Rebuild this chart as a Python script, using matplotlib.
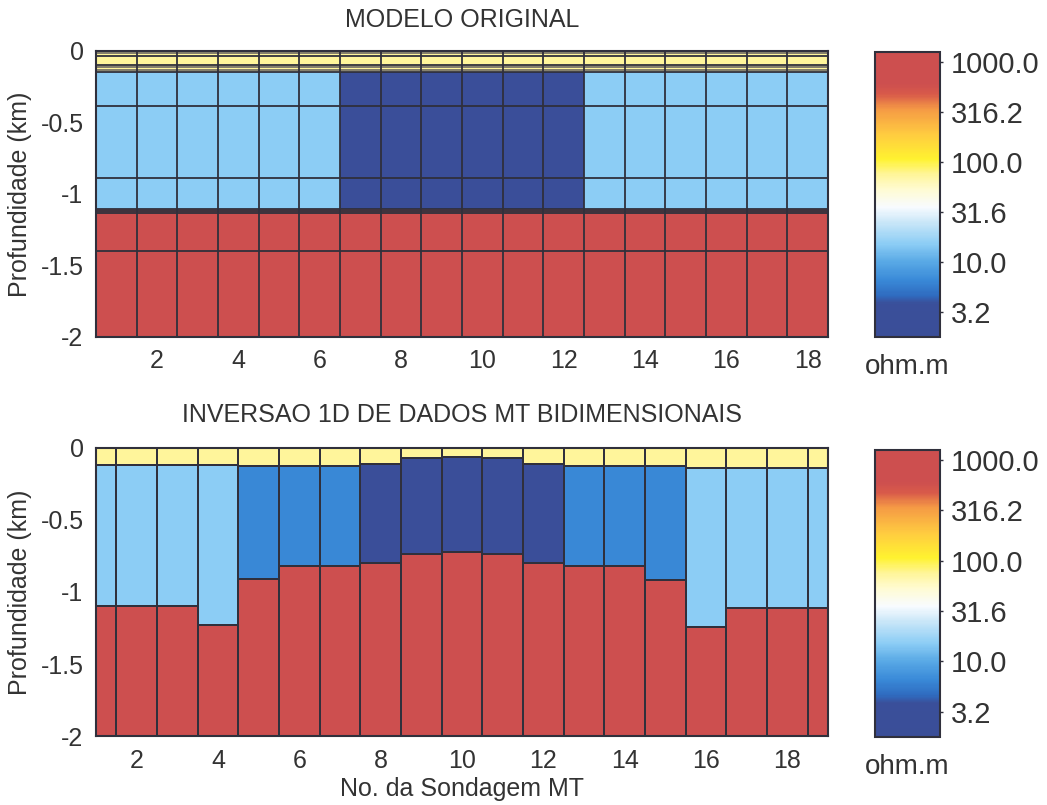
import matplotlib
matplotlib.use('Agg')
import matplotlib.pyplot as plt
import numpy as np
from matplotlib.colors import LinearSegmentedColormap, Normalize

plt.rcParams['font.family'] = ['Liberation Sans', 'DejaVu Sans']
plt.rcParams['font.size'] = 18

# resistividade (ohm.m) de cada camada
RHO_TOPO = 75.0
RHO_RASO = 15.0
RHO_MEDIO = 6.5
RHO_CONDUTOR = 2.2
RHO_EMBASAMENTO = 1000.0

# modelo original: 18 estacoes, camadas com profundidade (km)
estacoesModelo = np.arange(1, 19)
camadasModelo = [0.0, 0.017, 0.035, 0.097, 0.115, 0.13, 0.148,
                 0.385, 0.888, 1.107, 1.122, 1.135, 1.40, 2.0]
camadasFinas = [0.017, 0.115, 0.13]
condutorModelo = [7, 8, 9, 10, 11, 12]

# inversao 1D: 19 estacoes, base da camada superficial e topo do embasamento (km)
estacoesInversao = np.arange(1, 20)
baseTopo = [0.115, 0.115, 0.115, 0.115, 0.125, 0.125, 0.125, 0.11, 0.067, 0.065,
            0.067, 0.11, 0.125, 0.125, 0.125, 0.14, 0.14, 0.14, 0.14]
topoEmbasamento = [1.10, 1.10, 1.10, 1.23, 0.91, 0.82, 0.82, 0.80, 0.737, 0.72,
                   0.737, 0.80, 0.82, 0.82, 0.92, 1.24, 1.11, 1.11, 1.11]
rhoIntermediaria = [RHO_RASO] * 4 + [RHO_MEDIO] * 3 + [RHO_CONDUTOR] * 5 + \
                   [RHO_MEDIO] * 3 + [RHO_RASO] * 4

ticksCores = [0.5, 1.0, 1.5, 2.0, 2.5, 3.0]

cores = [(0.0, '#3a4e98'), (0.116, '#3a4f9a'), (0.145, '#2f6cc0'), (0.20, '#3a8ad8'),
         (0.265, '#5aaae6'), (0.326, '#8ccdf5'), (0.40, '#c8e6f8'), (0.456, '#f8fbff'),
         (0.52, '#fffbd0'), (0.57, '#fff59a'), (0.625, '#fff230'), (0.71, '#ffcc40'),
         (0.80, '#f59a45'), (0.853, '#d85a4a'), (0.89, '#cd4f4f'), (1.0, '#cd4f4f')]
cmap = LinearSegmentedColormap.from_list('resist', cores, N=256)
norm = Normalize(vmin=0.25, vmax=3.1)
corLinha = '#30303c'
corFina = '#6e6a66'
corTexto = '#333333'


def modeloOriginal():
    nCamadas = len(camadasModelo) - 1
    valores = np.zeros((nCamadas, len(estacoesModelo)))
    for k in range(nCamadas):
        base = camadasModelo[k + 1]
        if base <= 0.148:
            valores[k, :] = RHO_TOPO
        elif base <= 1.107:
            valores[k, :] = RHO_RASO
            for e in condutorModelo:
                valores[k, e - 1] = RHO_CONDUTOR
        else:
            valores[k, :] = RHO_EMBASAMENTO
    return valores


def estiloEixo(ax):
    ax.set_ylim(-2, 0)
    ax.set_yticks([-2, -1.5, -1, -0.5, 0])
    ax.set_yticklabels(['-2', '-1.5', '-1', '-0.5', '0'])
    ax.set_xticks([2, 4, 6, 8, 10, 12, 14, 16, 18])
    ax.tick_params(length=0, pad=9, labelcolor=corTexto)
    ax.set_ylabel('Profundidade (km)', color=corTexto, labelpad=6)
    for s in ax.spines.values():
        s.set_color(corLinha)
        s.set_linewidth(1.5)
        s.set_zorder(5)


def barraCores(fig, rect):
    cax = fig.add_axes(rect)
    sm = matplotlib.cm.ScalarMappable(norm=norm, cmap=cmap)
    cb = fig.colorbar(sm, cax=cax)
    cb.set_ticks(ticksCores)
    cb.set_ticklabels(['{:.1f}'.format(10 ** v) for v in ticksCores])
    cb.ax.tick_params(length=2, width=1, pad=6, labelsize=21, labelcolor=corTexto,
                      color=corLinha)
    cb.outline.set_edgecolor(corLinha)
    cb.outline.set_linewidth(1.5)
    cb.ax.text(0.5, -0.06, 'ohm.m', transform=cb.ax.transAxes, ha='center', va='top',
               fontsize=20, color=corTexto)
    return cb


fig = plt.figure(figsize=(10.47, 8.05), dpi=100)

# modelo original
ax1 = fig.add_axes([0.0917, 0.5814, 0.6991, 0.3553])
xEdges = np.append(estacoesModelo - 0.5, estacoesModelo[-1] + 0.5)
yEdges = -np.array(camadasModelo)
ax1.pcolormesh(xEdges, yEdges, np.log10(modeloOriginal()), cmap=cmap, norm=norm,
               edgecolors='none')
for z in camadasModelo:
    if z in camadasFinas:
        ax1.axhline(-z, color=corFina, linewidth=1.2, zorder=3)
    else:
        ax1.axhline(-z, color=corLinha, linewidth=1.3, zorder=3)
for x in xEdges:
    ax1.axvline(x, color=corLinha, linewidth=1.3, zorder=4)
ax1.set_xlim(0.5, 18.5)
estiloEixo(ax1)
ax1.set_title('MODELO ORIGINAL', color=corTexto, pad=17, fontsize=18)
barraCores(fig, [0.8357, 0.5814, 0.0621, 0.354])

# inversao 1D
ax2 = fig.add_axes([0.0917, 0.0857, 0.6991, 0.3578])
meio = (estacoesInversao[:-1] + estacoesInversao[1:]) / 2
xLim = np.concatenate([[estacoesInversao[0]], meio, [estacoesInversao[-1]]])
for i in range(len(estacoesInversao)):
    ys = -np.array([0.0, baseTopo[i], topoEmbasamento[i], 2.0])
    vals = np.log10(np.array([[RHO_TOPO], [rhoIntermediaria[i]], [RHO_EMBASAMENTO]]))
    ax2.pcolormesh(xLim[i:i + 2], ys, vals, cmap=cmap, norm=norm,
                   edgecolors=corLinha, linewidth=1.2)
ax2.set_xlim(1, 19)
estiloEixo(ax2)
ax2.set_title('INVERSAO 1D DE DADOS MT BIDIMENSIONAIS', color=corTexto, pad=19,
              fontsize=18)
ax2.set_xlabel('No. da Sondagem MT', color=corTexto, labelpad=3)
barraCores(fig, [0.8357, 0.0845, 0.0621, 0.3566])

fig.savefig('out.png', dpi=100)
